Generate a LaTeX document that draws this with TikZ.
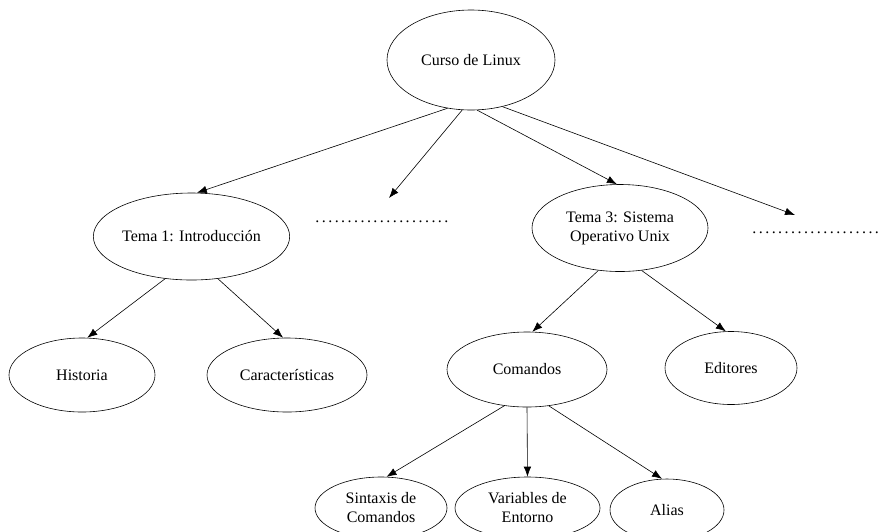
\documentclass[tikz,border=0pt]{standalone}
\usepackage{fontspec}
\setmainfont{Liberation Serif}
\usetikzlibrary{shapes.geometric,arrows.meta}
\newcommand{\dotrun}[1]{\makebox[#1]{\leaders\hbox to 6.45pt{\hss.\hss}\hfill}}
\begin{document}
\begin{tikzpicture}[x=1pt,y=-1pt,
  oval/.style={ellipse,draw,line width=0.6pt,inner sep=0pt,align=center,
    font=\fontsize{16}{19}\selectfont},
  arr/.style={line width=0.6pt,-{Latex[length=10pt,width=7.5pt]}},
  dotrow/.style={inner sep=0pt,font=\fontsize{16}{19}\selectfont}]
\useasboundingbox (0,0) rectangle (882,531);
% nodes
\node[oval,minimum width=168pt,minimum height=100pt] (curso) at (471,60) {Curso de Linux};
\node[oval,minimum width=177pt,minimum height=87pt] (tema1) at (191.5,236.5) {Tema 1: Introducción};
\node[dotrow,anchor=base west] (dotsL) at (314,222) {\dotrun{138pt}};
\node[oval,minimum width=176pt,minimum height=87pt] (tema3) at (620,228) {Tema 3: Sistema\\Operativo Unix};
\node[dotrow,anchor=base west] (dotsR) at (751,233) {\dotrun{129pt}};
\node[oval,minimum width=146pt,minimum height=74pt] (historia) at (82,375) {Historia};
\node[oval,minimum width=160pt,minimum height=74pt] (caract) at (287,375) {Características};
\node[oval,minimum width=160pt,minimum height=75pt] (comandos) at (527,369.5) {Comandos};
\node[oval,minimum width=132pt,minimum height=73pt] (editores) at (731,368) {Editores};
\node[oval,minimum width=132pt,minimum height=62pt] (sintaxis) at (381,508) {Sintaxis de\\Comandos};
\node[oval,minimum width=145pt,minimum height=62pt] (variables) at (527.5,508) {Variables de\\Entorno};
\node[oval,minimum width=114pt,minimum height=62pt] (alias) at (667,510) {Alias};
\coordinate (tipL) at (389,198);
\coordinate (tipR) at (795,215);
% connectors
\draw[arr] (curso.-116) -- (tema1.83);
\draw[arr] (curso.-100) -- (tipL);
\draw[arr] (curso.-83) -- (tema3.94);
\draw[arr] (curso.-56) -- (tipR);
\draw[arr] (tema1.-122) -- (historia.82);
\draw[arr] (tema1.-58) -- (caract.96);
\draw[arr] (tema3.-117) -- (comandos.82);
\draw[arr] (tema3.-63) -- (editores.98);
\draw[arr] (comandos.-122) -- (sintaxis.80);
\draw[arr] (comandos.south) -- (variables.north);
\draw[arr] (comandos.-59) -- (alias.99);
\end{tikzpicture}
\end{document}
